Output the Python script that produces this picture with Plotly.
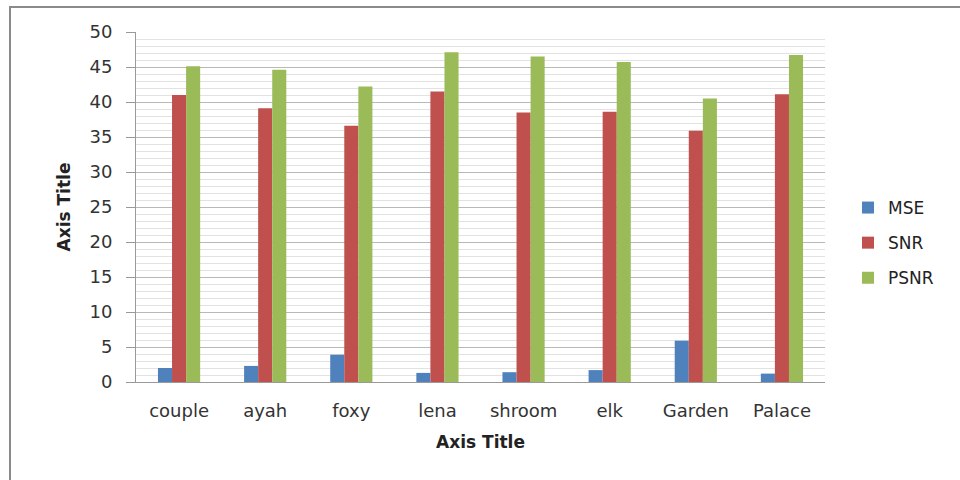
import plotly.graph_objects as go

categories = ["couple", "ayah", "foxy", "lena", "shroom", "elk", "Garden", "Palace"]
mse = [2.0, 2.3, 3.9, 1.3, 1.4, 1.7, 5.9, 1.2]
snr = [41.0, 39.1, 36.6, 41.5, 38.5, 38.6, 35.9, 41.1]
psnr = [45.1, 44.6, 42.2, 47.1, 46.5, 45.7, 40.5, 46.7]
y_ticks = [0, 5, 10, 15, 20, 25, 30, 35, 40, 45, 50]

series = [("MSE", mse, "#4F81BD"), ("SNR", snr, "#C0504D"), ("PSNR", psnr, "#9BBB59")]

fig = go.Figure()
for name, vals, color in series:
    fig.add_trace(go.Bar(x=categories, y=vals, name=name, marker_color=color,
                         marker_line_width=0, legendgroup=name))

W, H = 960, 480
L, R, T, B = 136, 135, 32, 98
pw, ph = W - L - R, H - T - B

fig.update_layout(
    width=W, height=H,
    margin=dict(l=L, r=R, t=T, b=B, autoexpand=False),
    paper_bgcolor="white", plot_bgcolor="white",
    barmode="group", bargap=0.51, bargroupgap=0,
    font=dict(family="DejaVu Sans, sans-serif", size=17, color="#333333"),
    legend=dict(x=(848 - L) / pw, y=1 - (190 - T) / ph, xanchor="left", yanchor="top",
                font=dict(size=17, color="#222222"), tracegroupgap=10,
                itemsizing="constant", bgcolor="rgba(0,0,0,0)"),
    showlegend=True,
)

fig.update_xaxes(
    showline=True, linecolor="#999999", linewidth=1,
    ticks="", showgrid=False,
    tickfont=dict(size=18, color="#333333"),
    ticklabelstandoff=12,
    title=dict(text="<b>Axis Title</b>", font=dict(size=17, color="#222222"), standoff=16),
)
fig.update_yaxes(
    range=[0, 50], tickvals=y_ticks,
    showline=True, linecolor="#999999", linewidth=1,
    ticks="outside", ticklen=9, tickcolor="#999999",
    showgrid=True, gridcolor="#b8b8b8", gridwidth=1,
    minor=dict(dtick=1, showgrid=True, gridcolor="#e2e2e2", gridwidth=1),
    tickfont=dict(size=18, color="#333333"),
    ticklabelstandoff=10,
    title=dict(text="<b>Axis Title</b>", font=dict(size=17, color="#222222"), standoff=14),
)

# outer frame
fig.add_shape(type="rect", xref="paper", yref="paper",
              x0=(10 - L) / pw, x1=2, y0=-1, y1=1 + (T - 7) / ph,
              line=dict(color="#8a8a8a", width=2), fillcolor="rgba(0,0,0,0)")

fig.write_html("out.html")
